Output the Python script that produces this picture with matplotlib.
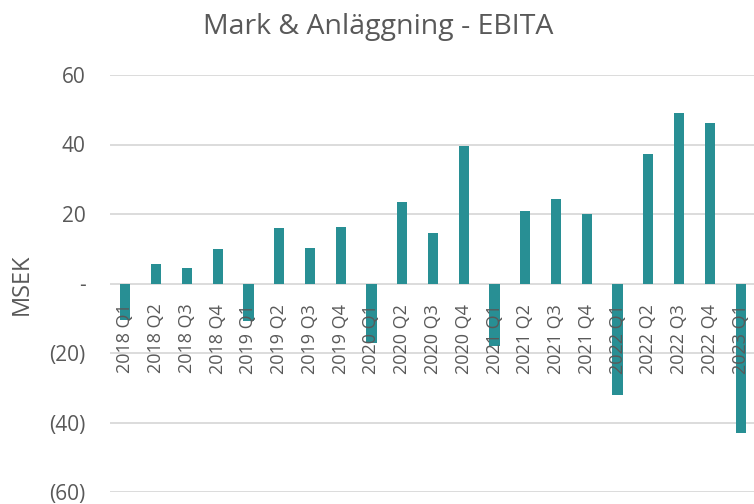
import numpy as np
import matplotlib.pyplot as plt
import matplotlib.transforms as mtransforms

plt.rcParams['font.family'] = ['Open Sans', 'DejaVu Sans']

# Quarterly EBITA, MSEK
quarters = ['2018 Q1', '2018 Q2', '2018 Q3', '2018 Q4',
            '2019 Q1', '2019 Q2', '2019 Q3', '2019 Q4',
            '2020 Q1', '2020 Q2', '2020 Q3', '2020 Q4',
            '2021 Q1', '2021 Q2', '2021 Q3', '2021 Q4',
            '2022 Q1', '2022 Q2', '2022 Q3', '2022 Q4',
            '2023 Q1']
ebita = [-10.5, 5.5, 4.5, 9.9,
         -10.7, 15.9, 10.2, 16.2,
         -17.2, 23.4, 14.5, 39.7,
         -18.1, 20.9, 24.2, 20.1,
         -32.1, 37.2, 49.0, 46.1,
         -42.9]
yticks = [60, 40, 20, 0, -20, -40, -60]
ytick_labels = ['60', '40', '20', '-', '(20)', '(40)', '(60)']

grey = '#595959'
bar_col = '#288f94'

fig = plt.figure(figsize=(7.54, 5.04), dpi=100)
ax = fig.add_axes([110/754, 12/504, 646/754, 417/504])

x = np.arange(len(quarters))
ax.bar(x, ebita, width=0.33, color=bar_col, zorder=2)

ax.set_xlim(-0.5, len(quarters) - 0.5)
ax.set_ylim(-60, 60)
ax.set_yticks(yticks)
ax.set_yticklabels(ytick_labels)
ax.yaxis.grid(True, color='#d9d9d9', linewidth=1.3)
ax.set_axisbelow(True)
ax.tick_params(axis='y', length=0, pad=17.5, labelsize=15, labelcolor=grey)
ax.set_xticks([])
for s in ax.spines.values():
    s.set_visible(False)

# category labels hang just under the zero line, on top of the bars
off = mtransforms.offset_copy(ax.transData, fig=fig, x=0, y=-14.5, units='points')
for xi, q in zip(x, quarters):
    ax.text(xi, 0, q, transform=off, rotation=90, ha='center', va='top',
            fontsize=13, color=grey, zorder=5)

fig.text(22/754, 1 - 284/504, 'MSEK', rotation=90, ha='center', va='center',
         fontsize=17, color=grey)
fig.text(378/754, 1 - 27/504, 'Mark & Anläggning - EBITA', ha='center', va='center',
         fontsize=20.5, color=grey)

fig.savefig('out.png', dpi=100)
